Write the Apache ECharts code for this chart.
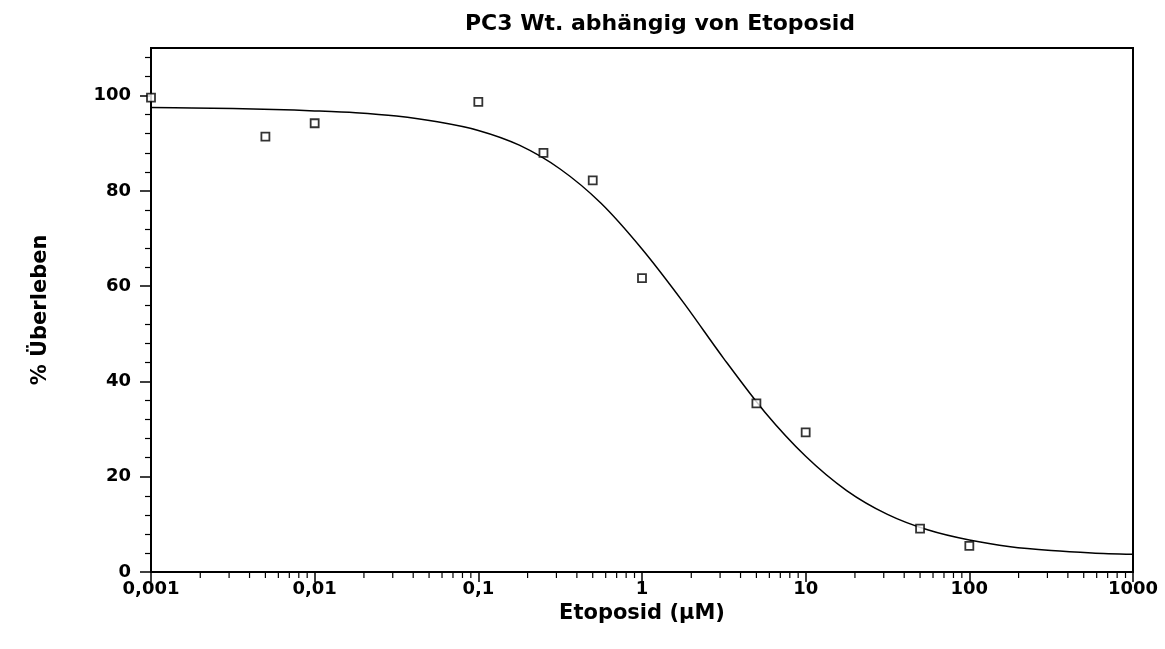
<!DOCTYPE html>
<html>
<head>
<meta charset="utf-8">
<title>PC3 Wt. abhängig von Etoposid</title>
<script src="https://cdn.jsdelivr.net/npm/echarts@6/dist/echarts.min.js"></script>
<style>
  html, body { margin: 0; padding: 0; background: #fff; }
  #chart { width: 1165px; height: 649px; }
</style>
</head>
<body>
<div id="chart"></div>
<script>
// Measured survival of PC3 wild-type cells after etoposide treatment
const doseX = [0.001, 0.005, 0.01, 0.1, 0.25, 0.5, 1, 5, 10, 50, 100];
const survival = [99.6, 91.4, 94.2, 98.7, 88.0, 82.2, 61.7, 35.4, 29.3, 9.1, 5.5];

// Fitted dose-response curve, sampled every quarter decade
const curveX = [0.001, 0.00178, 0.00316, 0.00562, 0.01, 0.0178, 0.0316, 0.0562,
                0.1, 0.178, 0.316, 0.562, 1, 1.78, 3.16, 5.62, 10, 17.8, 31.6,
                56.2, 100, 178, 316, 562, 1000];
const curveY = [97.5, 97.4, 97.3, 97.1, 96.8, 96.4, 95.7, 94.5, 92.7, 89.6, 84.6,
                77.4, 67.8, 56.7, 44.8, 33.6, 24.3, 17.1, 12.1, 8.8, 6.7, 5.3,
                4.5, 4.0, 3.7];

// Axis ticks
const yMajorTicks = [0, 20, 40, 60, 80, 100];
const yMinorTicks = [4, 8, 12, 16, 24, 28, 32, 36, 44, 48, 52, 56, 64, 68, 72, 76,
                     84, 88, 92, 96, 104, 108];
const xDecades = [0.001, 0.01, 0.1, 1, 10, 100];
const xMinorSteps = [2, 3, 4, 5, 6, 7, 8, 9];

const xMinorTicks = [];
xDecades.forEach(d => xMinorSteps.forEach(k => xMinorTicks.push([+(d * k).toPrecision(3), 0])));

const FONT = '"DejaVu Sans", "Liberation Sans", Arial, sans-serif';
const labelStyle = { color: '#000', fontFamily: FONT, fontWeight: 'bold', fontSize: 18 };
const nameStyle = { color: '#000', fontFamily: FONT, fontWeight: 'bold', fontSize: 21 };

const chart = echarts.init(document.getElementById('chart'), null, { renderer: 'canvas' });

chart.setOption({
  animation: false,
  backgroundColor: '#fff',
  title: {
    text: 'PC3 Wt. abhängig von Etoposid',
    left: 655,
    top: 8,
    textAlign: 'center',
    textStyle: { ...nameStyle, fontSize: 22 }
  },
  grid: {
    left: 151, right: 32, top: 48, bottom: 77,
    show: true, borderColor: '#000', borderWidth: 2, backgroundColor: 'transparent'
  },
  xAxis: [{
    type: 'log',
    logBase: 10,
    min: 0.001,
    max: 1000,
    name: 'Etoposid (µM)',
    nameLocation: 'middle',
    nameGap: 26,
    nameTextStyle: nameStyle,
    axisLine: { show: true, lineStyle: { color: '#000', width: 2 } },
    axisTick: { show: true, inside: false, length: 10, lineStyle: { color: '#000', width: 1.5 } },
    axisLabel: {
      ...labelStyle,
      margin: 8,
      formatter: v => String(+v.toPrecision(3)).replace('.', ',')
    },
    splitLine: { show: false },
    minorTick: { show: false },
    minorSplitLine: { show: false }
  }],
  yAxis: [{
    type: 'value',
    min: 0,
    max: 110,
    name: '% Überleben',
    nameLocation: 'middle',
    nameRotate: 90,
    nameGap: 100,
    nameTextStyle: nameStyle,
    axisLine: { show: true, lineStyle: { color: '#000', width: 2 } },
    axisTick: { show: true, inside: false, length: 11, customValues: yMajorTicks,
                lineStyle: { color: '#000', width: 1.5 } },
    axisLabel: { ...labelStyle, margin: 20, customValues: yMajorTicks },
    splitLine: { show: false }
  }, {
    type: 'value',
    min: 0,
    max: 110,
    position: 'left',
    axisLine: { show: false },
    axisTick: { show: true, inside: false, length: 6, customValues: yMinorTicks,
                lineStyle: { color: '#000', width: 1.2 } },
    axisLabel: { show: false },
    splitLine: { show: false }
  }],
  series: [{
    name: 'Fit',
    type: 'line',
    data: curveX.map((x, i) => [x, curveY[i]]),
    smooth: 0.3,
    showSymbol: false,
    symbol: 'none',
    lineStyle: { color: '#000', width: 1.5 },
    z: 3
  }, {
    name: 'Überleben',
    type: 'scatter',
    data: doseX.map((x, i) => [x, survival[i]]),
    symbol: 'rect',
    symbolSize: 8,
    itemStyle: { color: '#fff', borderColor: '#000', borderWidth: 1.8 },
    clip: false,
    z: 4
  }, {
    name: 'xMinor',
    type: 'custom',
    data: xMinorTicks,
    clip: false,
    silent: true,
    renderItem: (params, api) => {
      const p = api.coord([api.value(0), api.value(1)]);
      return {
        type: 'line',
        shape: { x1: p[0], y1: p[1], x2: p[0], y2: p[1] + 6 },
        style: { stroke: '#000', lineWidth: 1.2 }
      };
    },
    z: 5
  }]
});
</script>
</body>
</html>
